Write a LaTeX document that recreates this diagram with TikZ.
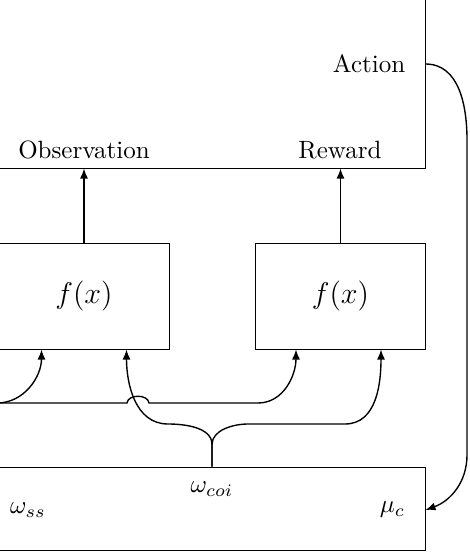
\documentclass[tikz,border=0pt]{standalone}
\usepackage{amssymb}
\usepackage{amsmath}
\usepackage{tikz}
\usetikzlibrary{calc,arrows.meta}

\begin{document}
\begin{tikzpicture}[x=0.4pt,y=-0.4pt]
\tikzstyle{blk}=[draw=black,minimum width=174pt,inner sep=0pt]
\tikzstyle{fbox}=[draw=black,minimum width=68pt,minimum height=42.4pt,font=\large]
\tikzstyle{lines}=[-{Latex[length=4pt,width=3.2pt]},line width=0.55pt,black]

\useasboundingbox (0,0) rectangle (470,553);
\clip (0,0) rectangle (470,553);
\node[blk,minimum height=71.2pt] (env) at (207.5,79) {};
\node[blk,minimum height=33.2pt] (ctrl) at (207.5,508.5) {};
\draw[shift={(84,296)},color=black] node[fbox] (fL) {$f(x)$};
\draw[shift={(340.5,296)},color=black] node[fbox] (fR) {$f(x)$};

\node (obs) at (84,150) {Observation};
\node (rew) at (340,150) {Reward};
\node[anchor=east] (act) at (414,64) {Action};
\node (wcoi) at (212,489) {$\omega_{coi}$};
\node (wss) at (28,510) {$\omega_{ss}$};
\node[anchor=east] (muc) at (414,510) {$\mu_c$};
\coordinate (ssin) at (-3,403);

\draw[lines] (fL) edge (fL.north |- env.south);
\draw[lines] (fR) edge (fR.north |- env.south);
\draw[lines] (ssin) to[out=0,in=-90] ($ (fL.south west) + (43,0) $);
\draw[lines] (ssin) -- (127,403) .. controls (128,394) and (148,394) .. (149,403)
  -- (258,403) to[out=0,in=-90] ($ (fR.south west) + (41,0) $);
\draw[lines] (wcoi |- ctrl.north) -- ++(0,-22) to[out=90,in=0,looseness=0.9] (168,424)
  to[out=180,in=-90] ($ (fL.south west) + (128,0) $);
\draw[lines] (wcoi |- ctrl.north) -- ++(0,-22) to[out=90,in=180,looseness=0.9] (248,424)
  -- (345,424) to[out=0,in=-90] ($ (fR.south west) + (126,0) $);
\draw[lines] (act -| env.east) to[out=0,in=90] (467,140) -- (467,455)
  to[out=-90,in=20] (muc -| ctrl.east);
\end{tikzpicture}
\end{document}
